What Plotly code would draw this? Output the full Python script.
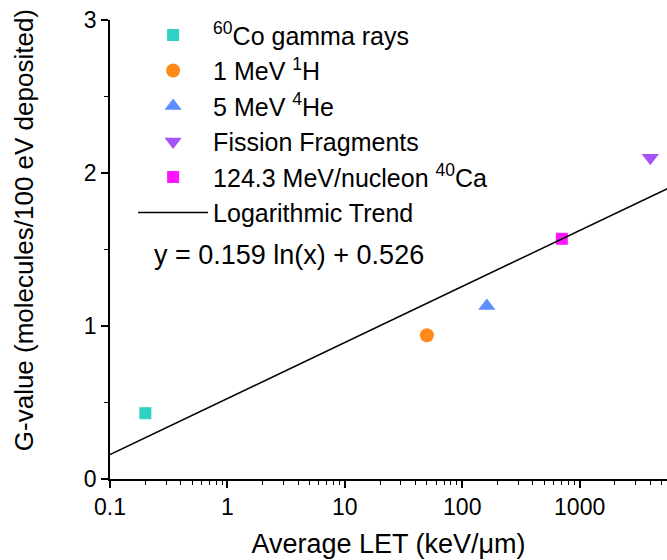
import plotly.graph_objects as go
import numpy as np

# Data
names = ["<sup>60</sup>Co gamma rays", "1 MeV <sup>1</sup>H", "5 MeV <sup>4</sup>He",
         "Fission Fragments", "124.3 MeV/nucleon <sup>40</sup>Ca"]
let_values = [0.2, 50, 162, 4000, 705]
g_values = [0.43, 0.94, 1.13, 2.10, 1.57]
colors = ["#2ED1C2", "#FF8A1C", "#5E8EFF", "#A552F7", "#FF14FF"]
symbols = ["square", "circle", "triangle-up", "triangle-down", "square"]
sizes = [12, 14, 15, 15, 12]

fit_slope = 0.159
fit_intercept = 0.526
trend_x = [0.1, 10000]
trend_y = [fit_slope * np.log(x) + fit_intercept for x in trend_x]
equation = "y = 0.159 ln(x) + 0.526"

x_tickvals = [0.1, 1, 10, 100, 1000]
x_ticktext = ["0.1", "1", "10", "100", "1000"]
y_tickvals = [0, 1, 2, 3]
y_title = "G-value (molecules/100 eV deposited)"

FONT = "Liberation Sans, Arial, sans-serif"

fig = go.Figure()
for n, xv, yv, c, s, sz in zip(names, let_values, g_values, colors, symbols, sizes):
    fig.add_trace(go.Scatter(x=[xv], y=[yv], mode="markers", name=n,
                             marker=dict(color=c, symbol=s, size=sz, line=dict(width=0))))
fig.add_trace(go.Scatter(x=trend_x, y=trend_y, mode="lines", name="Logarithmic Trend",
                         line=dict(color="black", width=1.5)))

fig.add_annotation(text=equation, xref="paper", yref="paper", x=0.075, y=0.488,
                   xanchor="left", yanchor="middle", showarrow=False,
                   font=dict(size=27, color="black", family=FONT))

fig.add_annotation(text=y_title, xref="paper", yref="paper", x=-0.154, y=0.5425,
                   xanchor="center", yanchor="middle", textangle=-90, showarrow=False,
                   font=dict(size=26, color="black", family=FONT))

fig.update_layout(
    width=667, height=560,
    margin=dict(l=110, r=0, t=20, b=81),
    paper_bgcolor="white", plot_bgcolor="white",
    font=dict(family=FONT, color="black"),
    showlegend=True,
    legend=dict(x=0.0415, y=1.017, xanchor="left", yanchor="top",
                font=dict(size=25, family=FONT), bgcolor="rgba(0,0,0,0)",
                itemwidth=70, tracegroupgap=0),
    xaxis=dict(type="log", range=[-1, 3.744], tickvals=x_tickvals, ticktext=x_ticktext,
               showline=True, linecolor="black", linewidth=1.5, ticks="outside",
               ticklen=7, tickwidth=1.5, tickcolor="black", showgrid=False, zeroline=False,
               tickfont=dict(size=23),
               minor=dict(ticks="outside", ticklen=4, tickwidth=1.2, tickcolor="black",
                          dtick="D1", showgrid=False),
               title=dict(text="Average LET (keV/\u03bcm)", font=dict(size=27), standoff=15)),
    yaxis=dict(range=[0, 3], tickvals=y_tickvals,
               showline=True, linecolor="black", linewidth=1.5, ticks="outside",
               ticklen=7, tickwidth=1.5, tickcolor="black", showgrid=False, zeroline=False,
               tickfont=dict(size=23),
               minor=dict(ticks="outside", ticklen=4, tickwidth=1.2, tickcolor="black",
                          dtick=0.5, showgrid=False)),
)

fig.write_html("out.html")
